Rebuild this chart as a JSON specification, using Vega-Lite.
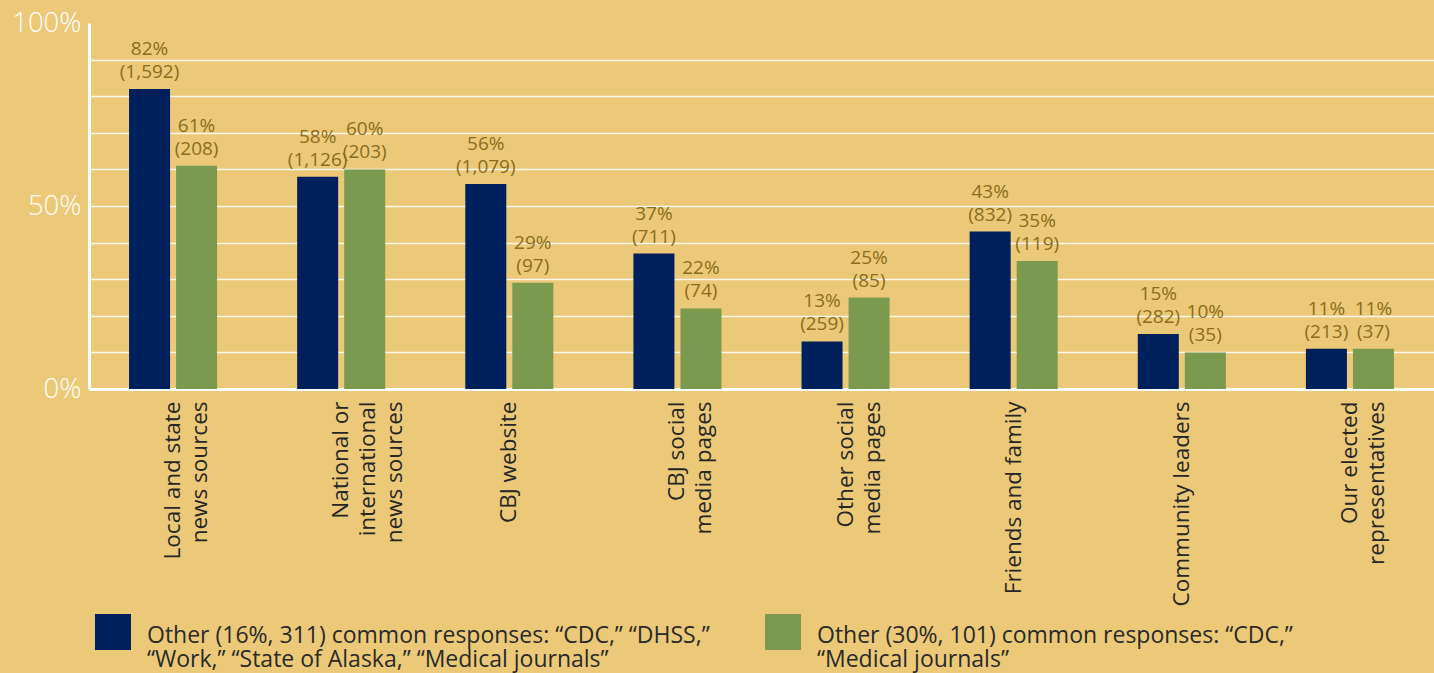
{
  "$schema": "https://vega.github.io/schema/vega-lite/v6.json",
  "autosize": {"type": "none"},
  "padding": {"left": 89, "top": 23, "right": 0, "bottom": 284},
  "width": 1345,
  "height": 366,
  "background": "#ECC978",
  "config": {
    "font": "Open Sans",
    "view": {"stroke": null},
    "axis": {"ticks": false, "title": null}
  },
  "data": {
    "values": [
      {"source": "Local and state news sources", "group": "A", "value": 0.82, "n": 1592},
      {"source": "Local and state news sources", "group": "B", "value": 0.61, "n": 208},
      {"source": "National or international news sources", "group": "A", "value": 0.58, "n": 1126},
      {"source": "National or international news sources", "group": "B", "value": 0.60, "n": 203},
      {"source": "CBJ website", "group": "A", "value": 0.56, "n": 1079},
      {"source": "CBJ website", "group": "B", "value": 0.29, "n": 97},
      {"source": "CBJ social media pages", "group": "A", "value": 0.37, "n": 711},
      {"source": "CBJ social media pages", "group": "B", "value": 0.22, "n": 74},
      {"source": "Other social media pages", "group": "A", "value": 0.13, "n": 259},
      {"source": "Other social media pages", "group": "B", "value": 0.25, "n": 85},
      {"source": "Friends and family", "group": "A", "value": 0.43, "n": 832},
      {"source": "Friends and family", "group": "B", "value": 0.35, "n": 119},
      {"source": "Community leaders", "group": "A", "value": 0.15, "n": 282},
      {"source": "Community leaders", "group": "B", "value": 0.10, "n": 35},
      {"source": "Our elected representatives", "group": "A", "value": 0.11, "n": 213},
      {"source": "Our elected representatives", "group": "B", "value": 0.11, "n": 37}
    ]
  },
  "encoding": {
    "x": {
      "field": "source", "type": "nominal", "sort": null,
      "scale": {"paddingInner": 0, "paddingOuter": 0},
      "axis": {
        "domainColor": "#FFFFFF", "domainWidth": 3,
        "labelAngle": -90, "labelAlign": "right", "labelBaseline": "middle",
        "labelFontSize": 22.5, "labelColor": "#262626", "labelPadding": 12,
        "labelLineHeight": 27, "labelLimit": 400,
        "labelExpr": "datum.value == 'Local and state news sources' ? ['Local and state', 'news sources'] : datum.value == 'National or international news sources' ? ['National or', 'international', 'news sources'] : datum.value == 'CBJ social media pages' ? ['CBJ social', 'media pages'] : datum.value == 'Other social media pages' ? ['Other social', 'media pages'] : datum.value == 'Our elected representatives' ? ['Our elected', 'representatives'] : datum.value"
      }
    },
    "xOffset": {
      "field": "group", "type": "nominal", "sort": ["A", "B"],
      "scale": {"paddingInner": 0.128, "paddingOuter": 0.851}
    },
    "y": {
      "field": "value", "type": "quantitative",
      "scale": {"domain": [0, 1]},
      "axis": {
        "values": [0, 0.1, 0.2, 0.3, 0.4, 0.5, 0.6, 0.7, 0.8, 0.9, 1],
        "format": ".0%",
        "labelExpr": "(datum.value == 0 || datum.value == 0.5 || datum.value == 1) ? datum.label : ''",
        "domainColor": "#FFFFFF", "domainWidth": 3,
        "labelColor": "#FFFFFF", "labelFontSize": 27.5, "labelFontWeight": 300,
        "labelPadding": 8,
        "gridColor": "#FFFFFF", "gridWidth": 1.5,
        "gridOpacity": {"condition": {"test": "datum.value == 0 || datum.value == 1", "value": 0}, "value": 0.85}
      }
    }
  },
  "layer": [
    {
      "mark": {"type": "bar"},
      "encoding": {
        "color": {
          "field": "group", "type": "nominal",
          "scale": {"domain": ["A", "B"], "range": ["#00205B", "#7A9A50"]},
          "legend": {
            "orient": "none", "legendX": 6, "legendY": 591,
            "direction": "horizontal", "title": null,
            "symbolType": "square", "symbolSize": 1296, "symbolStrokeWidth": 0, "symbolOpacity": 1,
            "labelFont": "Open Sans", "labelFontSize": 23, "labelColor": "#2A2A2A",
            "labelLimit": 900, "labelOffset": 16, "columnPadding": 55,
            "labelExpr": "datum.value == 'A' ? ['Other (16%, 311) common responses: “CDC,” “DHSS,”', '“Work,” “State of Alaska,” “Medical journals”'] : ['Other (30%, 101) common responses: “CDC,”', '“Medical journals”']",
            "encode": {
              "symbols": {"update": {"fill": {"signal": "datum.value == 'A' ? '#2E2C86' : '#7A9A50'"}}},
              "labels": {"update": {"lineHeight": {"value": 24}, "dy": {"value": 4}}}
            }
          }
        }
      }
    },
    {
      "mark": {
        "type": "text", "baseline": "bottom", "dy": -30,
        "fontSize": 19, "lineHeight": 23, "color": "#8A6D1C",
        "text": {"expr": "[format(datum.value, '.0%'), '(' + format(datum.n, ',') + ')']"}
      }
    }
  ]
}
